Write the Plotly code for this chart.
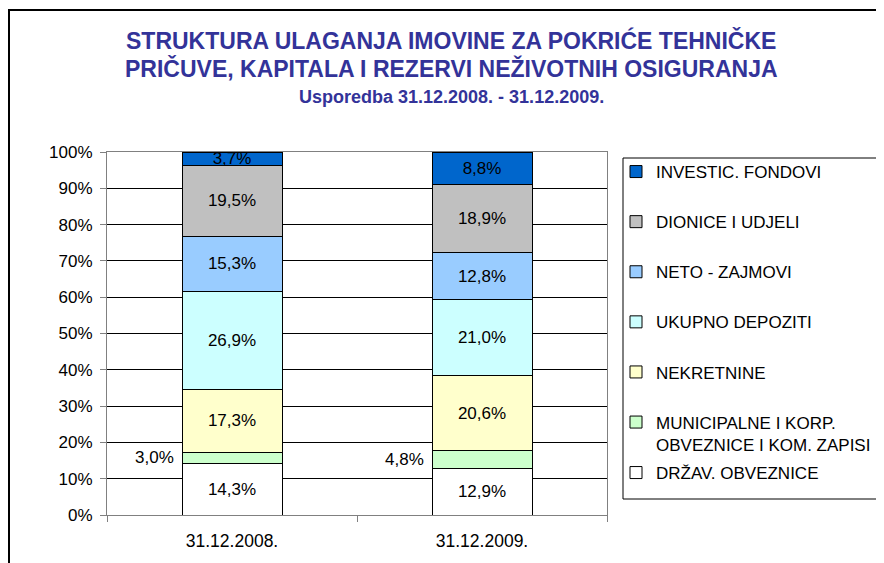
import plotly.graph_objects as go

categories = ["31.12.2008.", "31.12.2009."]
series_names = [
    "DRŽAV. OBVEZNICE",
    "MUNICIPALNE I KORP.<br>OBVEZNICE I KOM. ZAPISI",
    "NEKRETNINE",
    "UKUPNO DEPOZITI",
    "NETO - ZAJMOVI",
    "DIONICE I UDJELI",
    "INVESTIC. FONDOVI",
]
drzav = [14.3, 12.9]
municipalne = [3.0, 4.8]
nekretnine = [17.3, 20.6]
depoziti = [26.9, 21.0]
zajmovi = [15.3, 12.8]
dionice = [19.5, 18.9]
fondovi = [3.7, 8.8]
series_values = [drzav, municipalne, nekretnine, depoziti, zajmovi, dionice, fondovi]
colors = ["#FFFFFF", "#CCFFCC", "#FFFFCC", "#CCFFFF", "#99CCFF", "#C0C0C0", "#0066CC"]
outside_label_series = 1  # labels drawn left of the bar

FONT = "Liberation Sans, Arial, sans-serif"

# the page has an 8px body margin: figure pixel = page pixel - 8
OFF = 8
W, H = 884 - OFF, 563 - OFF
L, R, T, B = 107, 607, 152, 515  # plot area in page pixels


def px_x(p):
    return (p - L) / (R - L)


def px_y(p):
    return (B - p) / (B - T)


def fmt(v):
    return f"{v:.1f}%".replace(".", ",")


fig = go.Figure()
n = len(series_names)
for i, (name, vals, col) in enumerate(zip(series_names, series_values, colors)):
    fig.add_trace(go.Bar(
        x=categories, y=vals, name=name, legendgroup=name, legendrank=100 + (n - i),
        legend="legend2" if i == 0 else "legend",
        marker=dict(color=col, line=dict(color="#000000", width=1)),
        text=None if i == outside_label_series else [fmt(v) for v in vals],
        textposition="inside", insidetextanchor="middle",
        textfont=dict(family=FONT, size=17, color="#000000"),
        hoverinfo="skip",
    ))

# labels for the thin series, placed left of each bar
totals = [sum(s[j] for s in series_values) for j in range(len(categories))]
for j, cat in enumerate(categories):
    below = sum(series_values[k][j] for k in range(outside_label_series))
    v = series_values[outside_label_series][j]
    mid = (below + v / 2) / totals[j] * 100
    fig.add_annotation(x=cat, y=mid, xref="x", yref="y", text=fmt(v),
                       showarrow=False, xanchor="right", yanchor="middle",
                       xshift=-56, font=dict(family=FONT, size=17, color="#000000"))

title_col = "#333399"
fig.add_annotation(x=px_x(451), y=px_y(40), xref="paper", yref="paper",
                   text="<b>STRUKTURA ULAGANJA IMOVINE ZA POKRIĆE TEHNIČKE</b>",
                   showarrow=False, xanchor="center", yanchor="middle",
                   font=dict(family=FONT, size=23, color=title_col))
fig.add_annotation(x=px_x(451), y=px_y(68), xref="paper", yref="paper",
                   text="<b>PRIČUVE, KAPITALA I REZERVI NEŽIVOTNIH OSIGURANJA</b>",
                   showarrow=False, xanchor="center", yanchor="middle",
                   font=dict(family=FONT, size=23, color=title_col))
fig.add_annotation(x=px_x(451), y=px_y(97), xref="paper", yref="paper",
                   text="<b>Usporedba 31.12.2008. - 31.12.2009.</b>",
                   showarrow=False, xanchor="center", yanchor="middle",
                   font=dict(family=FONT, size=18, color=title_col))

# outer chart-area border
fig.add_shape(type="rect", xref="paper", yref="paper",
              x0=px_x(OFF + 1), x1=px_x(900), y0=px_y(600), y1=px_y(10),
              line=dict(color="#000000", width=2), fillcolor="rgba(0,0,0,0)", layer="below")
# legend box
fig.add_shape(type="rect", xref="paper", yref="paper",
              x0=px_x(623), x1=px_x(900), y0=px_y(499), y1=px_y(158),
              line=dict(color="#000000", width=1), fillcolor="#FFFFFF", layer="below")

leg_common = dict(
    xanchor="left", yanchor="top",
    borderwidth=0, bgcolor="rgba(0,0,0,0)",
    font=dict(family=FONT, size=17, color="#000000"),
    valign="top", itemwidth=30, traceorder="grouped",
)

fig.update_layout(
    width=W, height=H,
    margin=dict(l=L - OFF, r=W - (R - OFF), t=T - OFF, b=H - (B - OFF), pad=0, autoexpand=False),
    paper_bgcolor="#FFFFFF", plot_bgcolor="#FFFFFF",
    barmode="stack", barnorm="percent", bargap=0.6,
    uniformtext=dict(minsize=17, mode="show"),
    font=dict(family=FONT, size=16, color="#000000"),
    showlegend=True,
    legend=dict(x=px_x(616), y=px_y(154), tracegroupgap=25, **leg_common),
    legend2=dict(x=px_x(616), y=px_y(455), **leg_common),
    xaxis=dict(
        showgrid=False, showline=True, linecolor="#808080", linewidth=1, mirror=True,
        ticks="outside", tickson="boundaries", ticklen=6, tickcolor="#808080",
        tickfont=dict(family=FONT, size=17.5, color="#000000"),
        ticklabelstandoff=10,
        automargin=False,
    ),
    yaxis=dict(
        range=[0, 100], dtick=10, ticksuffix="%",
        showgrid=True, gridcolor="#000000", gridwidth=1,
        showline=True, linecolor="#808080", linewidth=1, mirror=True,
        ticks="outside", ticklen=6, tickcolor="#808080", zeroline=False,
        tickfont=dict(family=FONT, size=17, color="#000000"),
        ticklabelstandoff=4,
        automargin=False,
    ),
)

fig.write_html("out.html")
